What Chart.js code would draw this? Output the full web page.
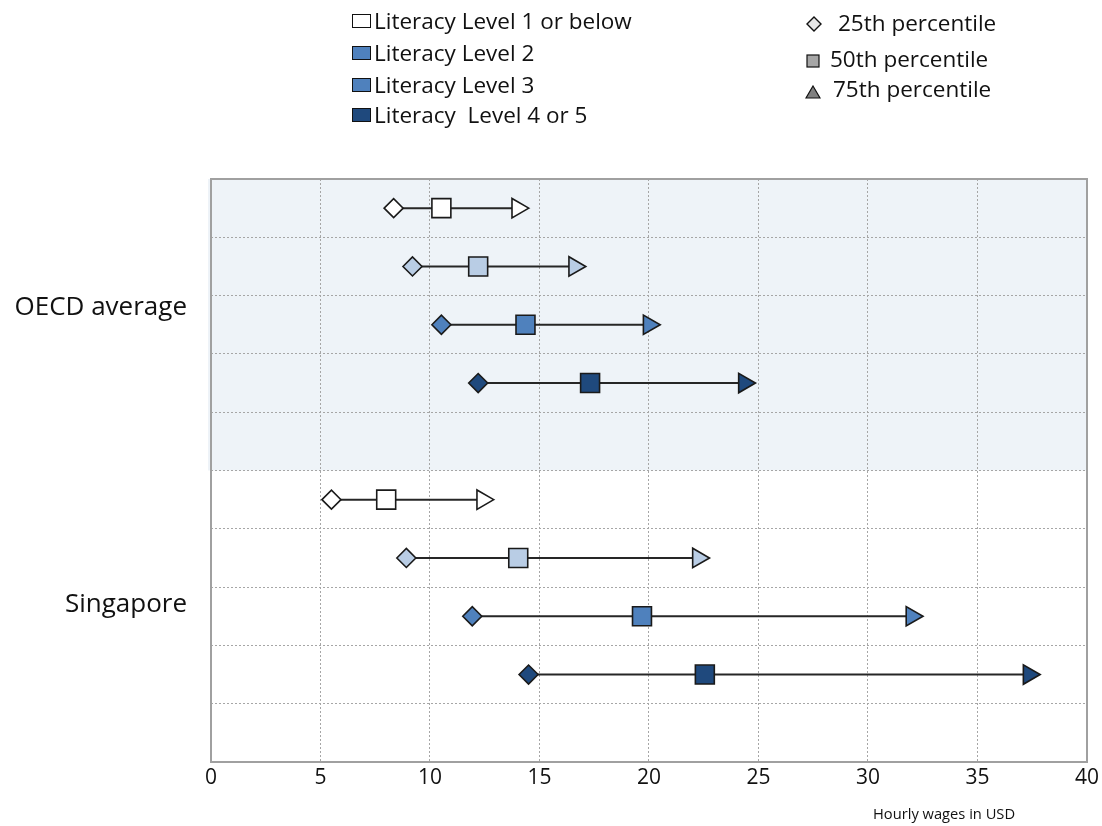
<!DOCTYPE html>
<html>
<head>
<meta charset="utf-8">
<script src="https://cdn.jsdelivr.net/npm/chart.js@4.4.0/dist/chart.umd.min.js"></script>
<style>
  html, body { margin: 0; padding: 0; background: #fff; }
  #wrap { position: relative; width: 1102px; height: 826px; font-family: "Open Sans", Lato, sans-serif; }
  #c { position: absolute; left: 0; top: 0; }
  .leg { position: absolute; font-size: 22.5px; color: #111; white-space: pre; line-height: 24px; }
  .sw { position: absolute; width: 19px; height: 14px; border: 1px solid #111; box-sizing: border-box; }
  .ax { position: absolute; font-size: 14.7px; color: #111; font-family: "Open Sans", sans-serif; }
</style>
</head>
<body>
<div id="wrap">
  <canvas id="c" width="1102" height="826"></canvas>
  <div id="legend"></div>
  <div class="ax" style="left:873px; top:803px;">Hourly wages in USD</div>
</div>
<script>
// ---- data ----
const groups = ['OECD average', 'Singapore'];
const levels = ['Literacy Level 1 or below', 'Literacy Level 2', 'Literacy Level 3', 'Literacy  Level 4 or 5'];
const percentiles = ['25th percentile', '50th percentile', '75th percentile'];
const xTicks = [0, 5, 10, 15, 20, 25, 30, 35, 40];
const oecdP25 = [8.34, 9.2, 10.52, 12.2];
const oecdP50 = [10.52, 12.2, 14.36, 17.31];
const oecdP75 = [14.0, 16.6, 20.0, 24.35];
const sgpP25 = [5.5, 8.92, 11.93, 14.5];
const sgpP50 = [8.0, 14.03, 19.68, 22.55];
const sgpP75 = [12.4, 22.25, 32.0, 37.35];

// ---- styles ----
const levelColors = ['#FFFFFF', '#B9CDE5', '#4F81BD', '#1F497D'];
const legendColors = ['#FFFFFF', '#4F81BD', '#4F81BD', '#1F497D'];
const markerEdge = '#1A1A1A';
const gridColor = '#A6A6A6';

// rows: OECD rows 0..3 (row 4 empty), Singapore rows 5..8 (row 9 empty)
const datasets = [];
function addGroup(p25, p50, p75, rowOffset) {
  for (let i = 0; i < levels.length; i++) {
    const y = rowOffset + i + 0.5;
    datasets.push({
      label: levels[i],
      data: [{x: p25[i], y: y}, {x: p50[i], y: y}, {x: p75[i], y: y}],
      borderColor: '#262626',
      borderWidth: 2,
      pointStyle: ['rectRot', 'rect', 'triangle'],
      pointRotation: [0, 0, 90],
      pointRadius: [9.5, 13.4, 11.2],
      pointBackgroundColor: levelColors[i],
      pointBorderColor: markerEdge,
      pointBorderWidth: 1.6,
      showLine: true,
      fill: false
    });
  }
}
addGroup(oecdP25, oecdP50, oecdP75, 0);
addGroup(sgpP25, sgpP50, sgpP75, 5);

const groupLabelPos = [2.2, 7.3];

const bgPlugin = {
  id: 'bg',
  beforeDraw(chart) {
    const {ctx, chartArea, scales} = chart;
    const y0 = scales.y.getPixelForValue(0);
    const y5 = scales.y.getPixelForValue(5);
    ctx.save();
    ctx.fillStyle = '#EEF3F8';
    ctx.fillRect(chartArea.left - 3, y0, chartArea.right - chartArea.left + 3, y5 - y0);
    ctx.restore();
  },
  afterDraw(chart) {
    const {ctx, chartArea} = chart;
    ctx.save();
    ctx.strokeStyle = '#A0A0A0';
    ctx.lineWidth = 2;
    ctx.strokeRect(chartArea.left, chartArea.top, chartArea.right - chartArea.left, chartArea.bottom - chartArea.top);
    ctx.restore();
  }
};

new Chart(document.getElementById('c'), {
  type: 'scatter',
  data: { datasets },
  plugins: [bgPlugin],
  options: {
    responsive: false,
    animation: false,
    events: [],
    layout: { padding: { top: 179, right: 14, left: 0, bottom: 0 } },
    plugins: { legend: { display: false }, tooltip: { enabled: false } },
    scales: {
      x: {
        type: 'linear', min: 0, max: 40,
        afterBuildTicks: (s) => { s.ticks = xTicks.map(v => ({value: v})); },
        afterFit: (s) => { s.height = 64; },
        grid: {
          color: (c) => (c.tick && (c.tick.value === 0 || c.tick.value === 40)) ? 'rgba(0,0,0,0)' : gridColor,
          lineWidth: 1, drawTicks: false
        },
        border: { display: false, dash: [2, 2] },
        ticks: { color: '#111', font: { family: 'Open Sans', size: 21 }, padding: 3, maxRotation: 0 }
      },
      y: {
        type: 'linear', min: 0, max: 10, reverse: true, weight: 0,
        afterBuildTicks: (s) => { const t = []; for (let v = 0; v <= 10; v++) t.push({value: v}); s.ticks = t; },
        afterFit: (s) => { s.width = 0; },
        grid: {
          color: (c) => (c.tick && (c.tick.value === 0 || c.tick.value === 10)) ? 'rgba(0,0,0,0)' : gridColor,
          lineWidth: 1, drawTicks: false
        },
        border: { display: false, dash: [2, 2] },
        ticks: { display: false }
      },
      yl: {
        type: 'linear', position: 'left', min: 0, max: 10, reverse: true, weight: 1,
        afterBuildTicks: (s) => { s.ticks = groupLabelPos.map(v => ({value: v})); },
        afterFit: (s) => { s.width = 211; },
        grid: { display: false, drawTicks: false },
        border: { display: false },
        ticks: {
          color: '#111', font: { family: 'Open Sans', size: 26 }, padding: 24,
          callback: (v) => { const i = groupLabelPos.indexOf(v); return i >= 0 ? groups[i] : ''; }
        }
      }
    }
  }
});

// ---- HTML legend ----
const leg = document.getElementById('legend');
const leftTops = [9, 41, 73, 103];
levels.forEach((l, i) => {
  const sw = document.createElement('div');
  sw.className = 'sw';
  sw.style.left = '352px';
  sw.style.top = (leftTops[i] + 5) + 'px';
  sw.style.background = legendColors[i];
  leg.appendChild(sw);
  const t = document.createElement('div');
  t.className = 'leg';
  t.style.left = '374px';
  t.style.top = leftTops[i] + 'px';
  t.textContent = l;
  leg.appendChild(t);
});
const rightTops = [11, 47, 77];
const rightText = [838, 830, 833];
const shapes = [
  '<svg width="16" height="16" viewBox="0 0 16 16"><polygon points="8,1 15,8 8,15 1,8" fill="#E6E6E6" stroke="#111" stroke-width="1.4"/></svg>',
  '<svg width="14" height="14" viewBox="0 0 14 14"><rect x="1" y="1" width="12" height="12" fill="#A6A6A6" stroke="#111" stroke-width="1.2"/></svg>',
  '<svg width="16" height="14" viewBox="0 0 16 14"><polygon points="8,1 15,13 1,13" fill="#808080" stroke="#111" stroke-width="1.2"/></svg>'
];
const shapeLeft = [806, 806, 805];
const shapeTop = [15, 51, 82];
percentiles.forEach((p, i) => {
  const s = document.createElement('div');
  s.style.position = 'absolute';
  s.style.left = shapeLeft[i] + 'px';
  s.style.top = shapeTop[i] + 'px';
  s.innerHTML = shapes[i];
  leg.appendChild(s);
  const t = document.createElement('div');
  t.className = 'leg';
  t.style.left = rightText[i] + 'px';
  t.style.top = rightTops[i] + 'px';
  t.textContent = p;
  leg.appendChild(t);
});
</script>
</body>
</html>
